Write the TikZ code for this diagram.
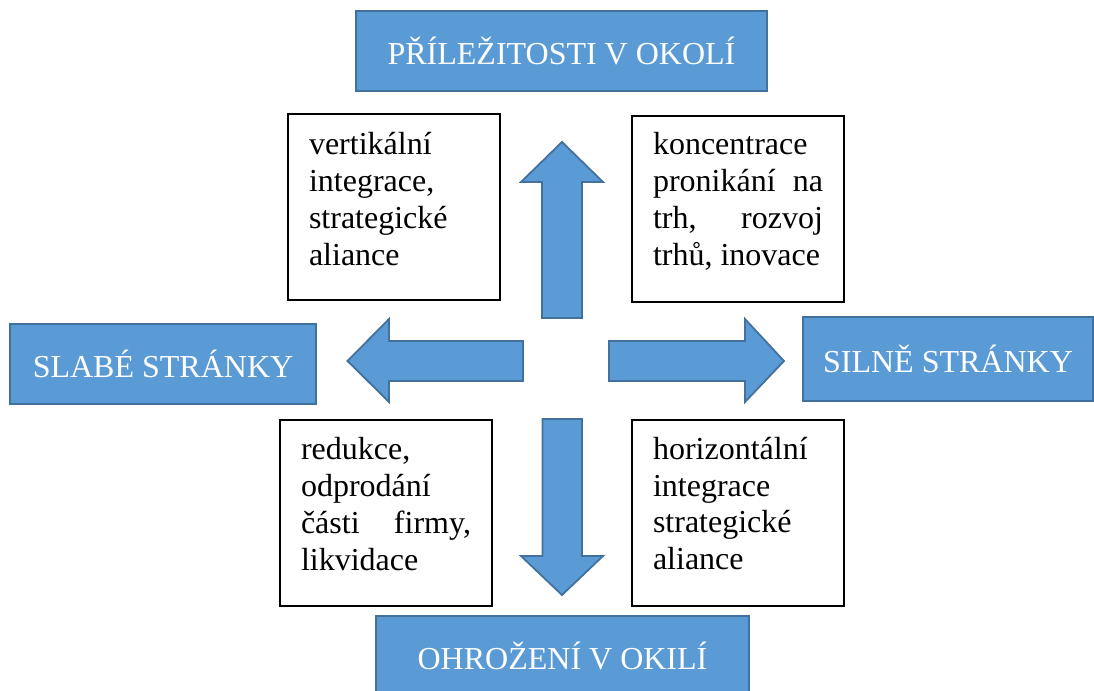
\documentclass[tikz,border=0pt]{standalone}
\usepackage{fontspec}
\setmainfont{Liberation Serif}
\definecolor{boxblue}{HTML}{5B9BD5}
\definecolor{boxedge}{HTML}{41719C}
\newcommand{\lineL}[1]{\hbox to 85pt{#1\hfil}}
\newcommand{\lineJ}[2]{\hbox to 85pt{#1\hfill #2}}
\tikzset{
  bluebox/.style={draw=boxedge, line width=1pt, fill=boxblue, text=white,
    inner sep=0pt, outer sep=0pt, font=\fontsize{16}{19}\selectfont},
  whitebox/.style={draw=black, line width=1.2pt, fill=white, inner sep=0pt,
    outer sep=0pt, minimum width=106pt, minimum height=93pt},
  boxtext/.style={anchor=north west, inner sep=0pt, outer sep=0pt,
    font=\fontsize{16}{18.4}\selectfont},
  barrow/.style={draw=boxedge, line width=0.9pt, fill=boxblue, line join=miter}
}
\begin{document}
\begin{tikzpicture}[x=0.5pt, y=-0.5pt]
\useasboundingbox (0,0) rectangle (1094,691);
% blue label boxes
\node[bluebox, minimum width=205.5pt, minimum height=40pt] (opp) at (561.5,51) {PŘÍLEŽITOSTI V OKOLÍ};
\node[bluebox, minimum width=153pt, minimum height=40pt] (weak) at (163,364) {SLABÉ STRÁNKY};
\node[bluebox, minimum width=145pt, minimum height=42pt] (strong) at (948,359) {SILNĚ STRÁNKY};
\node[bluebox, minimum width=186.5pt, minimum height=40pt] (threat) at (562.5,656) {OHROŽENÍ V OKILÍ};
% white boxes
\node[whitebox] (tl) at (394,207) {};
\node[whitebox] (tr) at (738,209) {};
\node[whitebox] (bl) at (386,513) {};
\node[whitebox] (br) at (738,513) {};
% texts
\node[boxtext] (tltext) at (309,129.2) {\vbox{\lineL{\strut vertikální}\lineL{integrace,}\lineL{strategické}\lineL{aliance}}};
\node[boxtext] (trtext) at (653,129.2) {\vbox{\lineL{\strut koncentrace}\lineJ{pronikání}{na}\lineJ{trh,}{rozvoj}\lineL{trhů, inovace}}};
\node[boxtext] (bltext) at (301,434.2) {\vbox{\lineL{\strut redukce,}\lineL{odprodání}\lineJ{části}{firmy,}\lineL{likvidace}}};
\node[boxtext] (brtext) at (653,433.5) {\vbox{\lineL{\strut horizontální}\lineL{integrace}\lineL{strategické}\lineL{aliance}}};
% block arrows
\draw[barrow] (542,318) -- (542,182) -- (521,182) -- (562,142) -- (603,182) -- (582,182) -- (582,318) -- cycle;
\draw[barrow] (542.5,419) -- (542.5,556) -- (521,556) -- (562,595) -- (603,556) -- (582,556) -- (582,419) -- cycle;
\draw[barrow] (523,341) -- (389,341) -- (389,319) -- (347.5,361) -- (389,402) -- (389,381) -- (523,381) -- cycle;
\draw[barrow] (609,341) -- (745,341) -- (745,319) -- (784,361) -- (745,402) -- (745,381) -- (609,381) -- cycle;
\end{tikzpicture}
\end{document}
